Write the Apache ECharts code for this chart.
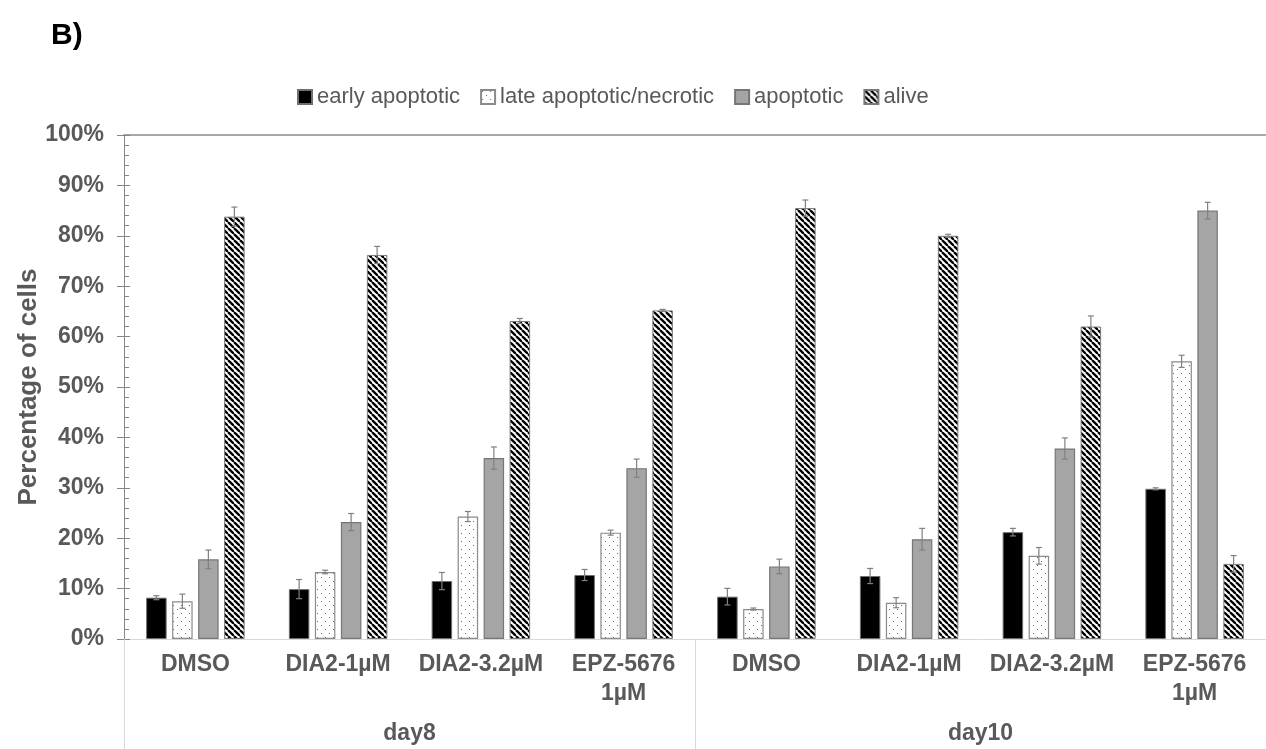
<!DOCTYPE html>
<html>
<head>
<meta charset="utf-8">
<script src="https://cdn.jsdelivr.net/npm/echarts@6/dist/echarts.min.js"></script>
<style>
html,body{margin:0;padding:0;background:#fff;}
#chart{width:1266px;height:749px;}
</style>
</head>
<body>
<div id="chart"></div>
<script>
const categories = ['DMSO','DIA2-1µM','DIA2-3.2µM','EPZ-5676\n1µM','DMSO','DIA2-1µM','DIA2-3.2µM','EPZ-5676\n1µM'];
const days = ['day8','day10'];
const seriesNames = ['early apoptotic','late apoptotic/necrotic','apoptotic','alive'];
const yTicks = [0,10,20,30,40,50,60,70,80,90,100];

const earlyApoptotic = [8.2, 9.9, 11.5, 12.7, 8.4, 12.5, 21.2, 29.8];
const earlyErr       = [0.4, 1.9, 1.7, 1.1, 1.65, 1.5, 0.75, 0.2];
const lateApoptotic  = [7.5, 13.3, 24.3, 21.1, 5.95, 7.2, 16.5, 55.1];
const lateErr        = [1.4, 0.35, 1.0, 0.5, 0.2, 1.0, 1.65, 1.2];
const apoptotic      = [15.8, 23.2, 35.9, 33.9, 14.4, 19.8, 37.8, 85.0];
const apoptoticErr   = [1.85, 1.7, 2.2, 1.8, 1.45, 2.15, 2.1, 1.65];
const alive          = [83.8, 76.2, 63.1, 65.2, 85.5, 80.0, 62.0, 14.9];
const aliveErr       = [1.9, 1.7, 0.5, 0.2, 1.6, 0.3, 2.1, 1.65];

const values = [earlyApoptotic, lateApoptotic, apoptotic, alive];
const errors = [earlyErr, lateErr, apoptoticErr, aliveErr];

function stripePattern(){
  const P = 6;
  const c = document.createElement('canvas');
  c.width = P; c.height = P;
  const g = c.getContext('2d');
  g.fillStyle = '#fff'; g.fillRect(0,0,P,P);
  g.strokeStyle = '#000'; g.lineWidth = 2.3;
  for (const o of [-P, 0, P]) {
    g.beginPath(); g.moveTo(o, 0); g.lineTo(o + P, P); g.stroke();
  }
  return {image: c, repeat: 'repeat'};
}
function dotPattern(){
  const c = document.createElement('canvas');
  c.width = 8; c.height = 8;
  const g = c.getContext('2d');
  g.fillStyle = '#fff'; g.fillRect(0,0,8,8);
  g.fillStyle = '#6a6a6a';
  g.fillRect(1,1,1,1);
  g.fillRect(5,5,1,1);
  return {image: c, repeat: 'repeat'};
}

const styles = [
  {color: '#000000', borderColor: '#6f6f6f', borderWidth: 1},
  {color: dotPattern(), borderColor: '#8a8a8a', borderWidth: 1.2},
  {color: '#a5a5a5', borderColor: '#767676', borderWidth: 1.2},
  {color: stripePattern(), borderColor: '#7a7a7a', borderWidth: 1}
];

const BAR_W = 20.5, GAP = 5.5;
const FONT = '"Liberation Sans", Arial, sans-serif';
const TXT = '#595959';

const barSeries = seriesNames.map((name, k) => ({
  name: name,
  type: 'bar',
  xAxisIndex: 0,
  yAxisIndex: 0,
  barWidth: BAR_W,
  barGap: (GAP / BAR_W * 100).toFixed(1) + '%',
  itemStyle: styles[k],
  emphasis: {disabled: true},
  data: values[k]
}));

const errSeries = seriesNames.map((name, k) => ({
  type: 'custom',
  xAxisIndex: 0,
  yAxisIndex: 0,
  z: 5,
  silent: true,
  data: values[k].map((v, i) => [i, v, errors[k][i]]),
  renderItem: function(params, api){
    const i = api.value(0), v = api.value(1), e = api.value(2);
    const off = (k - 1.5) * (BAR_W + GAP);
    const top = api.coord([i, v + e]);
    const bot = api.coord([i, v - e]);
    const x = top[0] + off;
    const cap = 3;
    const st = {stroke: '#808080', lineWidth: 1.2};
    return {type: 'group', children: [
      {type: 'line', shape: {x1: x, y1: top[1], x2: x, y2: bot[1]}, style: st},
      {type: 'line', shape: {x1: x - cap, y1: top[1], x2: x + cap, y2: top[1]}, style: st},
      {type: 'line', shape: {x1: x - cap, y1: bot[1], x2: x + cap, y2: bot[1]}, style: st}
    ]};
  }
}));

const chart = echarts.init(document.getElementById('chart'), null, {renderer: 'canvas'});
chart.setOption({
  animation: false,
  backgroundColor: '#ffffff',
  title: {
    text: 'B)', left: 46, top: 16,
    textStyle: {fontFamily: FONT, fontSize: 30, fontWeight: 'bold', color: '#000'}
  },
  legend: {
    data: seriesNames,
    left: 297, top: 86,
    itemWidth: 14, itemHeight: 14, itemGap: 20,
    icon: 'rect',
    padding: 0,
    textStyle: {fontFamily: FONT, fontSize: 22, color: TXT},
    selectedMode: false
  },
  grid: {left: 124, top: 135, width: 1152, height: 504, containLabel: false},
  xAxis: [
    {
      type: 'category', position: 'bottom', data: categories,
      axisLine: {show: true, lineStyle: {color: '#d9d9d9', width: 1}},
      axisTick: {show: false},
      axisLabel: {interval: 0, margin: 11, fontFamily: FONT, fontSize: 23, fontWeight: 'bold', color: TXT, lineHeight: 29}
    },
    {
      type: 'category', position: 'bottom', data: days,
      axisLine: {show: false},
      axisTick: {show: true, length: 110, lineStyle: {color: '#d9d9d9', width: 1}},
      axisLabel: {interval: 0, margin: 80, fontFamily: FONT, fontSize: 23, fontWeight: 'bold', color: TXT, lineHeight: 29}
    },
    {
      type: 'category', position: 'top', data: categories,
      axisLine: {show: true, lineStyle: {color: '#8c8c8c', width: 1.5}},
      axisTick: {show: false}, axisLabel: {show: false}
    }
  ],
  yAxis: [
    {
      type: 'value', min: 0, max: 100, interval: 10, position: 'left',
      name: 'Percentage of cells', nameLocation: 'middle', nameRotate: 90, nameGap: 82,
      nameMoveOverlap: false,
      nameTextStyle: {fontFamily: FONT, fontSize: 26, fontWeight: 'bold', color: TXT},
      axisLine: {show: true, lineStyle: {color: '#868686', width: 1}},
      axisTick: {show: true, inside: false, length: 7, lineStyle: {color: '#868686'}},
      splitLine: {show: false},
      axisLabel: {margin: 20, fontFamily: FONT, fontSize: 23, fontWeight: 'bold', color: TXT,
        formatter: function(v){ return yTicks.indexOf(v) >= 0 ? v + '%' : ''; }}
    },
    {
      type: 'value', min: 0, max: 100, interval: 10, position: 'left',
      axisLine: {show: true, lineStyle: {color: '#868686', width: 1}},
      axisTick: {show: true, inside: true, length: 6, lineStyle: {color: '#868686'}},
      minorTick: {show: true, splitNumber: 5, length: 5, lineStyle: {color: '#868686'}},
      splitLine: {show: false},
      axisLabel: {show: false}
    }
  ],
  series: barSeries.concat(errSeries)
});
</script>
</body>
</html>
